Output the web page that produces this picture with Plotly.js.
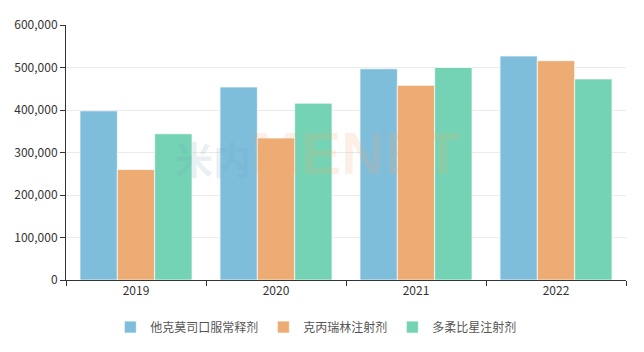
<!DOCTYPE html>
<html><head><meta charset="utf-8">
<script src="https://cdn.plot.ly/plotly-3.0.1.min.js"></script>
<style>body{margin:0;padding:0;background:#fff}#chart{width:644px;height:352px}</style>
</head><body><div id="chart"></div>
<script>
const years = ['2019','2020','2021','2022'];
const seriesNames = ['他克莫司口服常释剂','克丙瑞林注射剂','多柔比星注射剂'];
const tacrolimus = [398000, 454000, 497000, 527000];
const leuprorelin = [260000, 334000, 458000, 516000];
const doxorubicin = [344000, 416000, 500000, 473000];
const colors = ['#7ebedb','#edac74','#73d3b4'];
const values = [tacrolimus, leuprorelin, doxorubicin];

const traces = values.map((v,i)=>({
  type:'bar', x:years, y:v, name:seriesNames[i],
  marker:{color:colors[i], line:{color:'rgba(255,255,255,0.7)', width:1}},
  hoverinfo:'y+name'
}));

const watermark = '<b><span style="color:rgba(110,160,190,0.16);font-size:38px">米内</span>' +
  '<span style="color:rgba(237,172,116,0.18);font-size:60px;font-family:Liberation Sans, Arial, sans-serif">MENET</span></b>';

const layout = {
  width:644, height:352,
  margin:{l:66, r:18, t:25, b:71},
  paper_bgcolor:'#fff', plot_bgcolor:'#fff',
  font:{family:'"Noto Sans CJK SC", "DejaVu Sans", sans-serif', size:12, color:'#333'},
  barmode:'group', bargap:0.2, bargroupgap:0,
  xaxis:{type:'category', showline:true, linecolor:'#333', linewidth:1,
    ticks:'outside', tickson:'boundaries', ticklen:5, tickcolor:'#333',
    tickfont:{size:12, color:'#333'}, showgrid:false, zeroline:false},
  yaxis:{range:[0,600000], dtick:100000, tickformat:',d', showline:true, linecolor:'#333', linewidth:1,
    ticks:'outside', ticklen:5, tickcolor:'#333', gridcolor:'#ebebeb', zeroline:false,
    tickfont:{size:12, color:'#333'}},
  legend:{orientation:'h', x:0.447, xanchor:'center', y:-0.18, yanchor:'middle',
    font:{size:12, color:'#555'}, itemwidth:30},
  showlegend:true,
  annotations:[
    {xref:'paper', yref:'paper', x:0.45, y:0.496, text:watermark, showarrow:false,
     font:{size:38}}
  ]
};
Plotly.newPlot('chart', traces, layout, {displayModeBar:false, staticPlot:true});
</script></body></html>
